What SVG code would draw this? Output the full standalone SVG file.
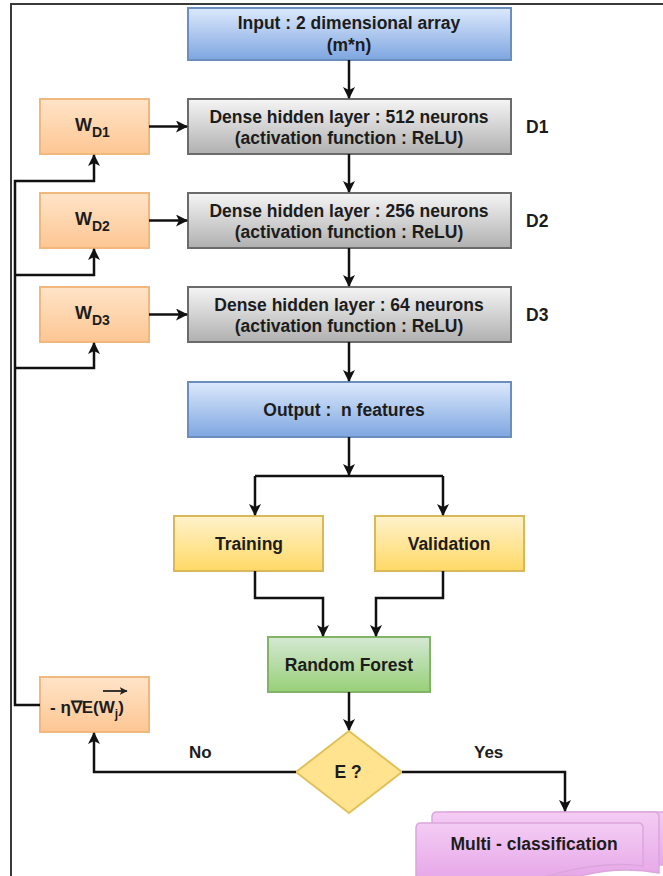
<svg xmlns="http://www.w3.org/2000/svg" width="663" height="876" viewBox="0 0 663 876">
<defs>
<linearGradient id="gBlue" x1="0" y1="0" x2="0" y2="1"><stop offset="0" stop-color="#dce9fc"/><stop offset="1" stop-color="#7ea6e0"/></linearGradient>
<linearGradient id="gGray" x1="0" y1="0" x2="0" y2="1"><stop offset="0" stop-color="#f5f5f5"/><stop offset="1" stop-color="#b0b0b0"/></linearGradient>
<linearGradient id="gOrange" x1="0" y1="0" x2="0" y2="1"><stop offset="0" stop-color="#ffe4c8"/><stop offset="1" stop-color="#fdc693"/></linearGradient>
<linearGradient id="gYellow" x1="0" y1="0" x2="0" y2="1"><stop offset="0" stop-color="#fff2cc"/><stop offset="1" stop-color="#ffd966"/></linearGradient>
<linearGradient id="gGreen" x1="0" y1="0" x2="0" y2="1"><stop offset="0" stop-color="#d5e8d4"/><stop offset="1" stop-color="#97d077"/></linearGradient>
<linearGradient id="gPurple" x1="0" y1="0" x2="0" y2="1"><stop offset="0" stop-color="#f3ccf3"/><stop offset="1" stop-color="#e7a8e9"/></linearGradient>
<marker id="arr" viewBox="0 0 12 12" refX="11" refY="6" markerWidth="12" markerHeight="12" markerUnits="userSpaceOnUse" orient="auto">
<path d="M0,0 L12,6 L0,12 L3,6 Z" fill="#111"/>
</marker>
<marker id="arrS" viewBox="0 0 12 12" refX="11" refY="6" markerWidth="8" markerHeight="8" markerUnits="userSpaceOnUse" orient="auto">
<path d="M0,0 L12,6 L0,12 L3,6 Z" fill="#222"/>
</marker>
</defs>
<style>
text{font-family:"Liberation Sans",Arial,sans-serif;font-weight:bold;fill:#1c1c1c;}
.t{font-size:17.5px;text-anchor:middle;}
.blue{fill:url(#gBlue);stroke:#6c8ebf;stroke-width:2;}
.gray{fill:url(#gGray);stroke:#6b6b6b;stroke-width:2;}
.orange{fill:url(#gOrange);stroke:#f2b77c;stroke-width:2;}
.yellow{fill:url(#gYellow);stroke:#d9b85a;stroke-width:2;}
.green{fill:url(#gGreen);stroke:#82b366;stroke-width:2;}
.dia{fill:#ffe38f;stroke:#e0c25c;stroke-width:2;}
.purple{fill:url(#gPurple);stroke:#dba6dc;stroke-width:1.5;}
.c{fill:none;stroke:#111;stroke-width:2.5;}
.frame{fill:none;stroke:#3a3a3a;stroke-width:2;}
</style>
<rect width="663" height="876" fill="#ffffff"/>
<path class="frame" d="M11,876 V4 H663"/>

<g id="input"><rect class="blue" x="188" y="8" width="323" height="52"/>
<text class="t" x="349" y="29">Input : 2 dimensional array</text>
<text class="t" x="349" y="51">(m*n)</text></g>

<g id="d1"><rect class="gray" x="188" y="99" width="323" height="55"/>
<text class="t" x="349" y="122.5">Dense hidden layer : 512 neurons</text>
<text class="t" x="349" y="143.5">(activation function : ReLU)</text></g>
<g id="d2"><rect class="gray" x="188" y="193" width="323" height="55"/>
<text class="t" x="349" y="216.5">Dense hidden layer : 256 neurons</text>
<text class="t" x="349" y="237.5">(activation function : ReLU)</text></g>
<g id="d3"><rect class="gray" x="188" y="287" width="323" height="55"/>
<text class="t" x="349" y="310.5">Dense hidden layer : 64 neurons</text>
<text class="t" x="349" y="331.5">(activation function : ReLU)</text></g>

<g id="lbl-d1"><text x="526" y="133" style="font-size:17.5px">D1</text></g>
<g id="lbl-d2"><text x="526" y="227" style="font-size:17.5px">D2</text></g>
<g id="lbl-d3"><text x="526" y="321" style="font-size:17.5px">D3</text></g>

<g id="wd1"><rect class="orange" x="40" y="99" width="109" height="55"/>
<text x="75" y="131" style="font-size:18px">W<tspan dy="6" style="font-size:14px">D1</tspan></text></g>
<g id="wd2"><rect class="orange" x="40" y="193" width="109" height="55"/>
<text x="75" y="225" style="font-size:18px">W<tspan dy="6" style="font-size:14px">D2</tspan></text></g>
<g id="wd3"><rect class="orange" x="40" y="287" width="109" height="55"/>
<text x="75" y="319" style="font-size:18px">W<tspan dy="6" style="font-size:14px">D3</tspan></text></g>

<g id="output"><rect class="blue" x="188" y="382" width="323" height="55"/>
<text class="t" x="344" y="416" xml:space="preserve">Output :  n features</text></g>

<g id="training"><rect class="yellow" x="174" y="516" width="149" height="55"/>
<text class="t" x="249" y="550">Training</text></g>
<g id="validation"><rect class="yellow" x="375" y="516" width="149" height="55"/>
<text class="t" x="449" y="550">Validation</text></g>

<g id="rf"><rect class="green" x="268" y="637" width="162" height="55"/>
<text class="t" x="349" y="671">Random Forest</text></g>

<g id="grad"><rect class="orange" x="40" y="677" width="109" height="55"/>
<text x="50" y="713" style="font-size:17px">- η∇E(W<tspan dy="5" style="font-size:12px">j</tspan><tspan dy="-5">)</tspan></text>
<path d="M103,691 H127" stroke="#222" stroke-width="1.8" marker-end="url(#arrS)"/></g>

<g id="decision"><path class="dia" d="M349,731 L402,772 L349,813 L296,772 Z"/>
<text class="t" x="348" y="778">E ?</text></g>

<g id="multi">
<path class="purple" d="M448,812 H680 V865 H448 Z"/>
<path class="purple" d="M432,817 Q432,812 437,812 H654 Q659,812 659,817 V873 Q620,866 580,876 H432 Z"/>
<path class="purple" d="M416,828 Q416,823 421,823 H638 Q643,823 643,828 V866 Q600,860 540,878 L416,878 Z"/>
<text class="t" x="534" y="850">Multi - classification</text></g>

<g id="labels">
<text x="189" y="758" style="font-size:17px">No</text>
<text x="474" y="758" style="font-size:17px">Yes</text>
</g>

<g id="connectors">
<path class="c" d="M349,60 V98" marker-end="url(#arr)"/>
<path class="c" d="M349,154 V192" marker-end="url(#arr)"/>
<path class="c" d="M349,248 V286" marker-end="url(#arr)"/>
<path class="c" d="M349,342 V381" marker-end="url(#arr)"/>
<path class="c" d="M149,126.5 H187" marker-end="url(#arr)"/>
<path class="c" d="M149,220.5 H187" marker-end="url(#arr)"/>
<path class="c" d="M149,314.5 H187" marker-end="url(#arr)"/>
<path class="c" d="M40,705 H15 V181 H94 V155" marker-end="url(#arr)"/>
<path class="c" d="M15,275 H94 V249" marker-end="url(#arr)"/>
<path class="c" d="M15,368 H94 V343" marker-end="url(#arr)"/>
<path class="c" d="M349,437 V475" marker-end="url(#arr)"/>
<path class="c" d="M255,476 H443"/>
<path class="c" d="M255,476 V515" marker-end="url(#arr)"/>
<path class="c" d="M443,476 V515" marker-end="url(#arr)"/>
<path class="c" d="M255,571 V598 H323 V636" marker-end="url(#arr)"/>
<path class="c" d="M443,571 V598 H376 V636" marker-end="url(#arr)"/>
<path class="c" d="M349,692 V730" marker-end="url(#arr)"/>
<path class="c" d="M296,772 H94 V733" marker-end="url(#arr)"/>
<path class="c" d="M402,772 H565 V811" marker-end="url(#arr)"/>
</g>
</svg>
